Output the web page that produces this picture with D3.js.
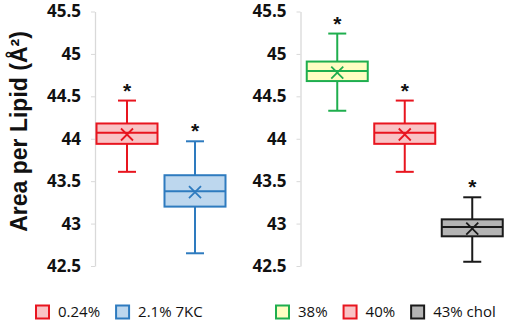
<!DOCTYPE html>
<html>
<head>
<meta charset="utf-8">
<script src="https://cdn.jsdelivr.net/npm/d3@7"></script>
<style>
  html, body { margin: 0; padding: 0; background: #ffffff; }
  svg { display: block; }
</style>
</head>
<body>
<svg id="chart" width="510" height="327"></svg>
<script>
// ---- data ----
const leftCats = ["0.24%", "2.1% 7KC"];
const leftMin = [43.61, 42.65];
const leftQ1 = [43.94, 43.20];
const leftMedian = [44.07, 43.38];
const leftQ3 = [44.18, 43.57];
const leftMax = [44.45, 43.97];
const leftMean = [44.05, 43.37];

const rightCats = ["38%", "40%", "43% chol"];
const rightMin = [44.33, 43.61, 42.55];
const rightQ1 = [44.68, 43.94, 42.85];
const rightMedian = [44.80, 44.07, 42.96];
const rightQ3 = [44.91, 44.18, 43.05];
const rightMax = [45.24, 44.45, 43.31];
const rightMean = [44.78, 44.05, 42.94];

const yTicks = [42.5, 43, 43.5, 44, 44.5, 45, 45.5];
const yTitle = "Area per Lipid (Å²)";
const sigMark = "*";

// ---- styles ----
const palette = {
  "0.24%":    { stroke: "#e8151f", fill: "#f9c3c5" },
  "2.1% 7KC": { stroke: "#2e7bbf", fill: "#bdd7ee" },
  "38%":      { stroke: "#1fae4e", fill: "#fffdc2" },
  "40%":      { stroke: "#e8151f", fill: "#f9c3c5" },
  "43% chol": { stroke: "#1a1a1a", fill: "#b4b4b4" }
};

const svg = d3.select("#chart");
const y = d3.scaleLinear().domain([42.5, 45.5]).range([266, 11.5]);
const boxW = 61, capW = 18, xSize = 6;

function makePanel(axisX, xRange, cats, mins, q1s, meds, q3s, maxs, means) {
  const x = d3.scalePoint().domain(cats).range(xRange).padding(0.5);
  const axis = d3.axisLeft(y).tickValues(yTicks).tickSize(4).tickSizeOuter(0)
    .tickPadding(10).tickFormat(d => String(d));
  const g = svg.append("g").attr("transform", `translate(${axisX},0)`).call(axis);
  g.select(".domain").attr("stroke", "#d9d9d9").attr("stroke-width", 1.3);
  g.selectAll(".tick line").attr("stroke", "#d9d9d9");
  g.selectAll(".tick text")
    .attr("font-family", "'Open Sans', sans-serif")
    .attr("font-weight", "bold").attr("font-size", 17).attr("fill", "#111");

  const data = cats.map((c, i) => ({ c, min: mins[i], q1: q1s[i], med: meds[i], q3: q3s[i], max: maxs[i], mean: means[i] }));
  const bg = svg.append("g").selectAll("g").data(data).join("g")
    .attr("transform", d => `translate(${x(d.c)},0)`);
  const sw = 2;
  // whiskers
  bg.append("line").attr("x1", 0).attr("x2", 0)
    .attr("y1", d => y(d.max)).attr("y2", d => y(d.min))
    .attr("stroke", d => palette[d.c].stroke).attr("stroke-width", sw);
  bg.append("line").attr("x1", -capW / 2).attr("x2", capW / 2)
    .attr("y1", d => y(d.max)).attr("y2", d => y(d.max))
    .attr("stroke", d => palette[d.c].stroke).attr("stroke-width", sw);
  bg.append("line").attr("x1", -capW / 2).attr("x2", capW / 2)
    .attr("y1", d => y(d.min)).attr("y2", d => y(d.min))
    .attr("stroke", d => palette[d.c].stroke).attr("stroke-width", sw);
  // box
  bg.append("rect").attr("x", -boxW / 2).attr("width", boxW)
    .attr("y", d => y(d.q3)).attr("height", d => y(d.q1) - y(d.q3))
    .attr("fill", d => palette[d.c].fill)
    .attr("stroke", d => palette[d.c].stroke).attr("stroke-width", sw);
  // median
  bg.append("line").attr("x1", -boxW / 2).attr("x2", boxW / 2)
    .attr("y1", d => y(d.med)).attr("y2", d => y(d.med))
    .attr("stroke", d => palette[d.c].stroke).attr("stroke-width", sw);
  // mean X
  bg.append("path")
    .attr("d", d => {
      const m = y(d.mean);
      return `M${-xSize},${m - xSize}L${xSize},${m + xSize}M${-xSize},${m + xSize}L${xSize},${m - xSize}`;
    })
    .attr("stroke", d => palette[d.c].stroke).attr("stroke-width", 1.8).attr("fill", "none");
  // asterisk
  bg.append("text").attr("x", 0).attr("y", d => y(d.max) - 3)
    .attr("text-anchor", "middle")
    .attr("font-family", "'Liberation Sans', Arial, sans-serif")
    .attr("font-weight", "bold").attr("font-size", 21).attr("fill", "#111")
    .text(sigMark);
}

makePanel(95, [93, 229], leftCats, leftMin, leftQ1, leftMedian, leftQ3, leftMax, leftMean);
makePanel(300.5, [303.5, 506], rightCats, rightMin, rightQ1, rightMedian, rightQ3, rightMax, rightMean);

// y title
svg.append("text")
  .attr("transform", "translate(27,131.5) rotate(-90)")
  .attr("text-anchor", "middle")
  .attr("font-family", "'Liberation Sans', Arial, sans-serif")
  .attr("font-weight", "bold").attr("font-size", 23).attr("fill", "#111")
  .text(yTitle);

// legends
function legend(startX, cats) {
  let cx = startX;
  const g = svg.append("g");
  cats.forEach(c => {
    g.append("rect").attr("x", cx + 1).attr("y", 305.5).attr("width", 13).attr("height", 13)
      .attr("fill", palette[c].fill).attr("stroke", palette[c].stroke).attr("stroke-width", 2);
    const t = g.append("text").attr("x", cx + 23).attr("y", 317)
      .attr("font-family", "'Open Sans', sans-serif").attr("font-size", 15).attr("fill", "#111")
      .text(c);
    cx = cx + 23 + t.node().getComputedTextLength() + 15;
  });
}
legend(35, leftCats);
legend(275, rightCats);
</script>
</body>
</html>
